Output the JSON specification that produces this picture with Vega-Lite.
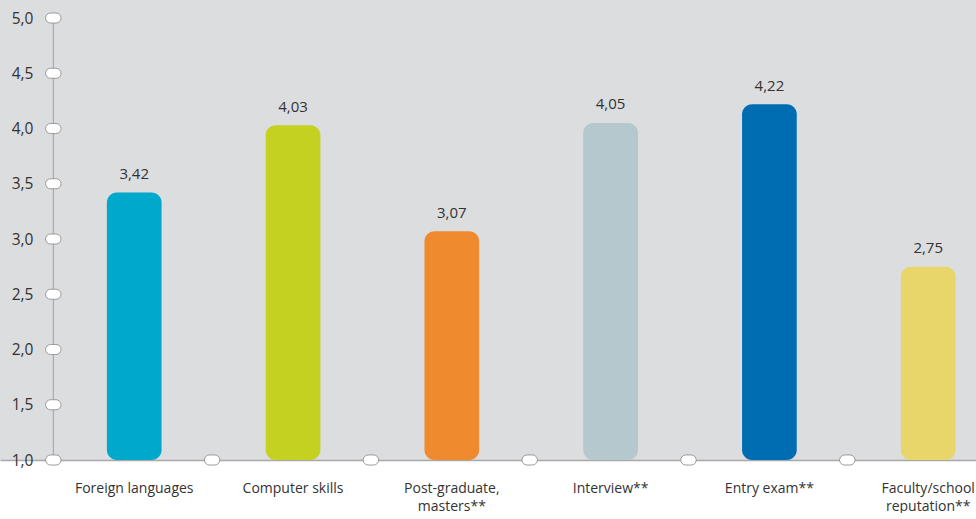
{
  "$schema": "https://vega.github.io/schema/vega-lite/v6.json",
  "width": 976,
  "height": 460,
  "autosize": {"type": "pad"},
  "padding": 0,
  "background": "white",
  "config": {
    "view": {"fill": "#dcdddf", "stroke": null},
    "font": "Open Sans",
    "locale": {"number": {"decimal": ",", "thousands": ".", "grouping": [3], "currency": ["", ""]}}
  },
  "data": {"values": [
    {"item": "Foreign languages", "score": 3.42},
    {"item": "Computer skills", "score": 4.03},
    {"item": "Post-graduate,|masters**", "score": 3.07},
    {"item": "Interview**", "score": 4.05},
    {"item": "Entry exam**", "score": 4.22},
    {"item": "Faculty/school|reputation**", "score": 2.75}
  ]},
  "encoding": {
    "x": {
      "field": "item", "type": "nominal", "title": null,
      "scale": {
        "domain": ["Foreign languages", "Computer skills", "Post-graduate,|masters**", "Interview**", "Entry exam**", "Faculty/school|reputation**"],
        "paddingInner": 0.6555, "paddingOuter": 0.4009, "align": 0.8394, "round": false
      },
      "axis": {
        "orient": "bottom", "domain": true, "domainColor": "#a9a9a9", "domainWidth": 1.5,
        "ticks": false, "grid": false, "labelAngle": 0, "labelPadding": 21,
        "labelFontSize": 14, "labelColor": "#333333", "labelFont": "Open Sans",
        "labelExpr": "split(datum.label, '|')", "labelLineHeight": 18, "labelBaseline": "top"
      }
    }
  },
  "layer": [
    {
      "data": {"values": [{"item": "Foreign languages", "lo": 1, "hi": 5}]},
      "mark": {"type": "rule", "color": "#a0a0a0", "strokeWidth": 1},
      "encoding": {
        "x": {"field": "item", "type": "nominal", "bandPosition": -0.979},
        "y": {"field": "lo", "type": "quantitative"},
        "y2": {"field": "hi"}
      }
    },
    {
      "mark": {"type": "bar", "cornerRadius": 10},
      "encoding": {
        "y": {
          "field": "score", "type": "quantitative", "title": null,
          "scale": {"domain": [1, 5.163], "zero": false, "nice": false},
          "axis": {
            "values": [1, 1.5, 2, 2.5, 3, 3.5, 4, 4.5, 5], "format": ".1f",
            "offset": -53, "domain": false, "ticks": false, "grid": false,
            "labelPadding": 20, "labelFontSize": 15.5, "labelColor": "#333333", "labelFont": "Open Sans"
          }
        },
        "y2": {"datum": 1},
        "color": {
          "field": "item", "type": "nominal", "legend": null,
          "scale": {
            "domain": ["Foreign languages", "Computer skills", "Post-graduate,|masters**", "Interview**", "Entry exam**", "Faculty/school|reputation**"],
            "range": ["#00a8cc", "#c4d121", "#ef8a2f", "#b4c8cd", "#006db3", "#e8d66a"]
          }
        }
      }
    },
    {
      "mark": {"type": "text", "dy": -13.5, "baseline": "alphabetic", "fontSize": 15, "color": "#333333", "font": "Open Sans"},
      "encoding": {
        "y": {"field": "score", "type": "quantitative"},
        "text": {"field": "score", "type": "quantitative", "format": ".2f"}
      }
    },
    {
      "data": {"values": [
        {"item": "Foreign languages", "v": 1},
        {"item": "Foreign languages", "v": 1.5},
        {"item": "Foreign languages", "v": 2},
        {"item": "Foreign languages", "v": 2.5},
        {"item": "Foreign languages", "v": 3},
        {"item": "Foreign languages", "v": 3.5},
        {"item": "Foreign languages", "v": 4},
        {"item": "Foreign languages", "v": 4.5},
        {"item": "Foreign languages", "v": 5},
        {"item": "Computer skills", "v": 1},
        {"item": "Post-graduate,|masters**", "v": 1},
        {"item": "Interview**", "v": 1},
        {"item": "Entry exam**", "v": 1},
        {"item": "Faculty/school|reputation**", "v": 1}
      ]},
      "mark": {
        "type": "point",
        "shape": "M-0.35,-0.65 L0.35,-0.65 A0.65,0.65 0 0 1 0.35,0.65 L-0.35,0.65 A0.65,0.65 0 0 1 -0.35,-0.65 Z",
        "size": 240, "filled": true, "fill": "white", "stroke": "#9a9a9a", "strokeWidth": 1, "opacity": 1
      },
      "encoding": {
        "x": {"field": "item", "type": "nominal", "bandPosition": -0.979},
        "y": {"field": "v", "type": "quantitative"}
      }
    }
  ]
}
